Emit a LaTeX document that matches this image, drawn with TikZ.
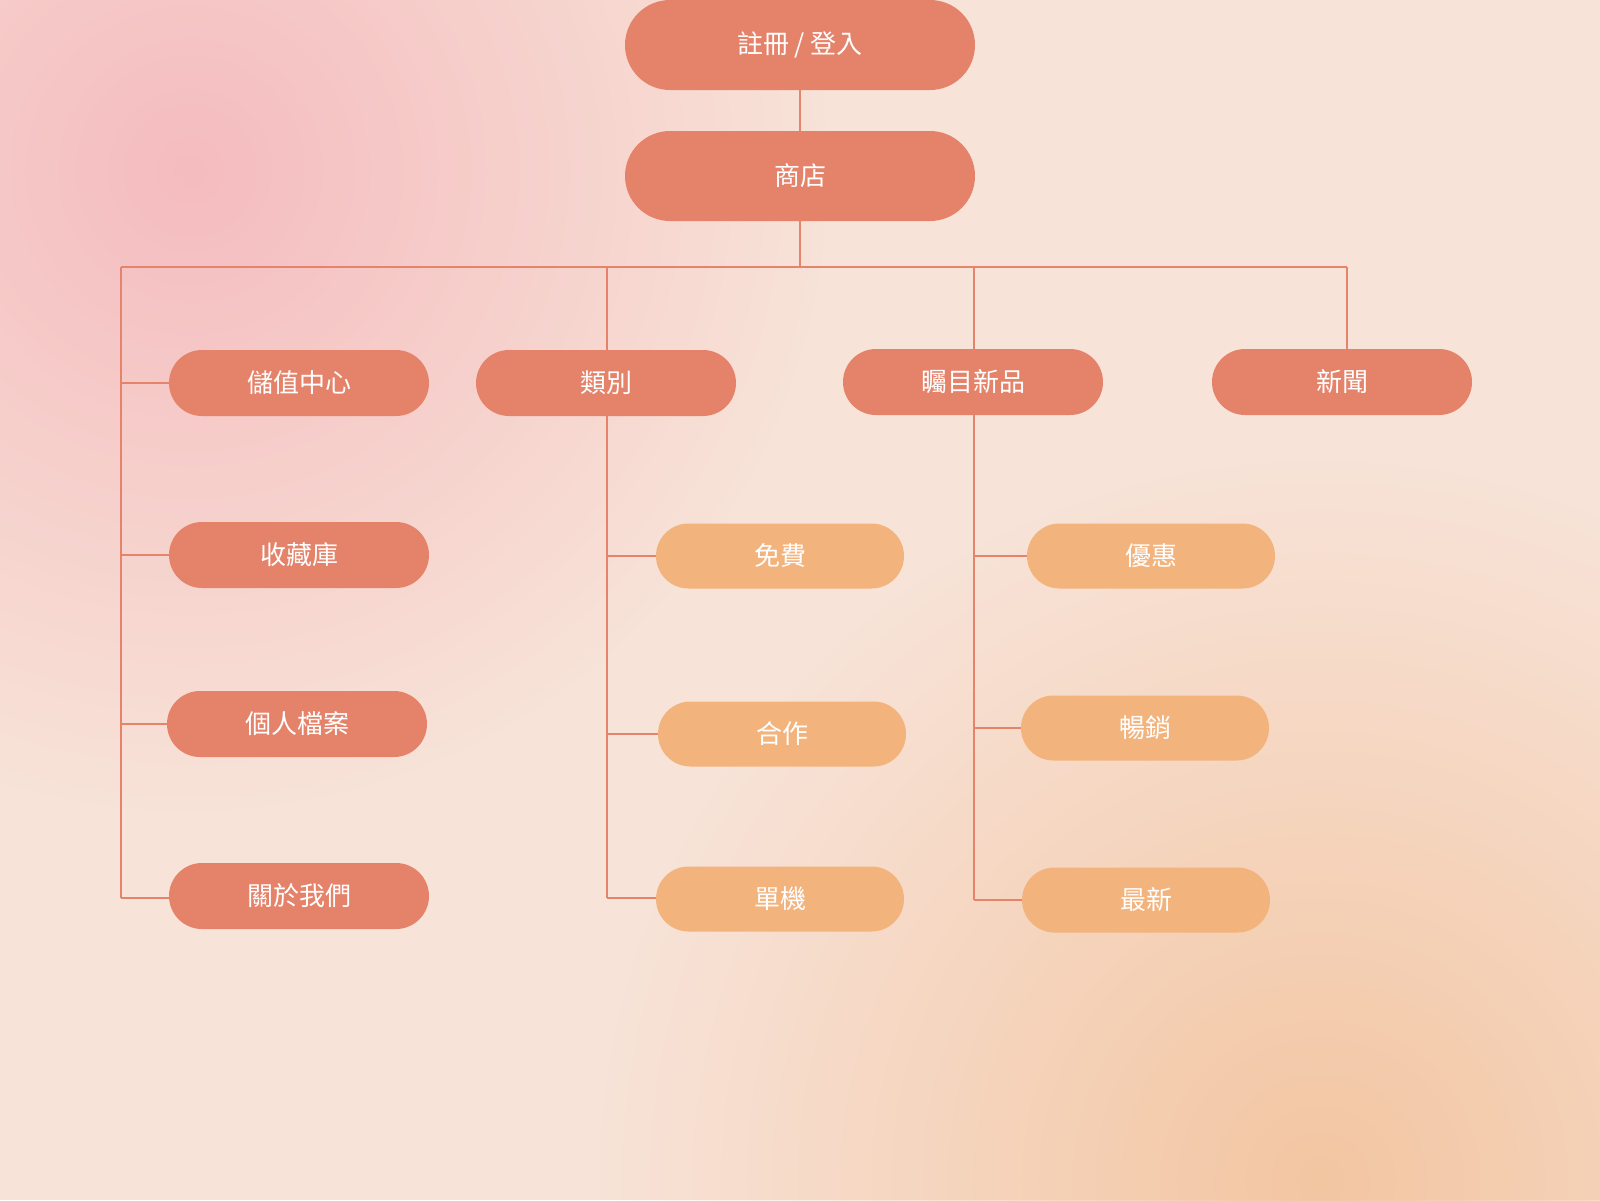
\documentclass[tikz,border=0pt]{standalone}
\usepackage{fontspec}
\setmainfont{Noto Sans CJK TC}
\usetikzlibrary{fadings,shadings,calc}
\definecolor{darkbox}{HTML}{E5826A}
\definecolor{lightbox}{HTML}{F3B37D}
\definecolor{linkcol}{HTML}{E5836B}
\definecolor{bgbase}{HTML}{F8E3D8}
\definecolor{blobpink}{HTML}{F5BCBF}
\definecolor{blobpeach}{HTML}{F3C6A2}
\tikzfading[name=blobfade, inner color=transparent!0, outer color=transparent!100]
\begin{document}
\begin{tikzpicture}[x=1pt,y=-1pt,
  boxtext/.style={text=white, inner sep=0pt, font=\fontsize{26}{30}\selectfont},
  topbox/.style={boxtext, fill=darkbox, minimum width=350pt, minimum height=90pt, rounded corners=45pt},
  midbox/.style={boxtext, fill=darkbox, minimum width=260pt, minimum height=66pt, rounded corners=33pt},
  subbox/.style={boxtext, fill=lightbox, minimum width=248pt, minimum height=65pt, rounded corners=32.5pt},
  link/.style={draw=linkcol, line width=2pt}]
\useasboundingbox (0,0) rectangle (1600,1200);
% background
\fill[bgbase] (0,0) rectangle (1600,1200);
\fill[blobpink, path fading=blobfade] (190,170) circle (640);
\fill[blobpeach, path fading=blobfade] (1320,1180) circle (720);
% nodes
\node[topbox] (login) at (800,45) {註冊 / 登入};
\node[topbox] (shop) at (800,176) {商店};
\node[midbox] (store) at (299,383) {儲值中心};
\node[midbox] (cat) at (606,383) {類別};
\node[midbox] (feat) at (973,382) {矚目新品};
\node[midbox] (news) at (1342,382) {新聞};
\node[midbox] (lib) at (299,555) {收藏庫};
\node[midbox] (prof) at (297,724) {個人檔案};
\node[midbox] (about) at (299,896) {關於我們};
\node[subbox] (free) at (780,556) {免費};
\node[subbox] (coop) at (782,734) {合作};
\node[subbox] (single) at (780,899) {單機};
\node[subbox] (sale) at (1151,556) {優惠};
\node[subbox] (best) at (1145,728) {暢銷};
\node[subbox] (newest) at (1146,900) {最新};
% bus coordinates
\coordinate (busL) at (121,267);
\coordinate (busC) at (800,267);
\coordinate (bus2) at (607,267);
\coordinate (bus3) at (974,267);
\coordinate (bus4) at (1347,267);
\coordinate (endL) at (121,898);
\coordinate (end2) at (607,898);
\coordinate (end3) at (974,900);
% connectors
\draw[link] (login.south) -- (shop.north);
\draw[link] (shop.south) -- (busC);
\draw[link] (busL) -- (bus4);
\draw[link] (bus4) -- (bus4 |- news.north);
\draw[link] (bus3) -- (bus3 |- feat.north);
\draw[link] (bus2) -- (bus2 |- cat.north);
\draw[link] (busL) -- (endL);
\draw[link] (busL |- store.west) -- (store.west);
\draw[link] (busL |- lib.west) -- (lib.west);
\draw[link] (busL |- prof.west) -- (prof.west);
\draw[link] (endL) -- (endL -| about.west);
\draw[link] (bus2 |- cat.south) -- (end2);
\draw[link] (bus2 |- free.west) -- (free.west);
\draw[link] (bus2 |- coop.west) -- (coop.west);
\draw[link] (end2) -- (end2 -| single.west);
\draw[link] (bus3 |- feat.south) -- (end3);
\draw[link] (bus3 |- sale.west) -- (sale.west);
\draw[link] (bus3 |- best.west) -- (best.west);
\draw[link] (end3) -- (end3 -| newest.west);
\end{tikzpicture}
\end{document}
